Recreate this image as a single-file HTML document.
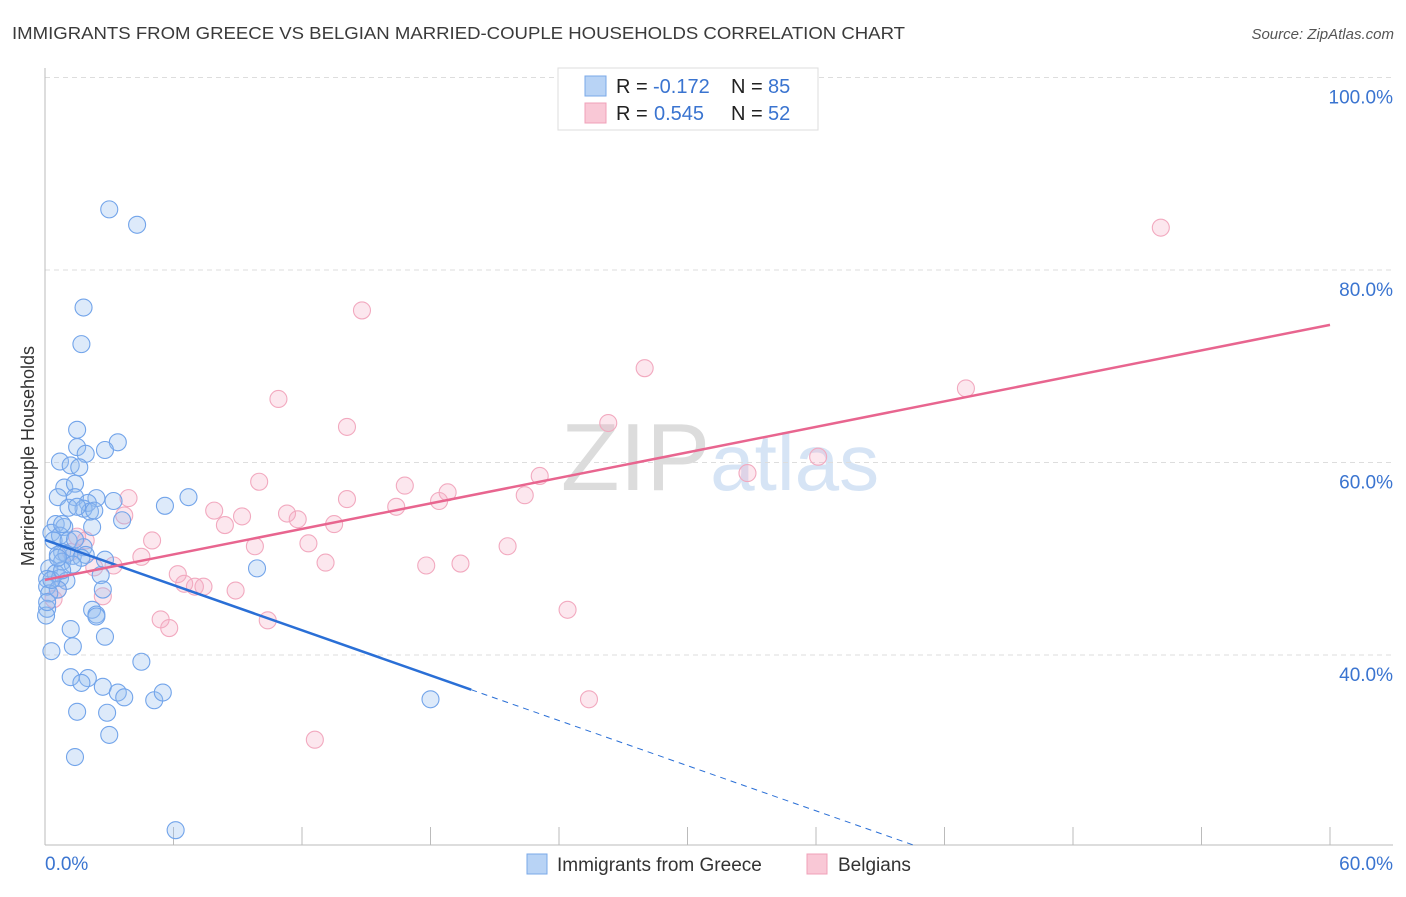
<!DOCTYPE html>
<html><head><meta charset="utf-8"><style>
body{margin:0;background:#fff;font-family:"Liberation Sans",sans-serif;}
svg text{font-family:"Liberation Sans",sans-serif;}
</style></head><body>
<svg id="chart" width="1406" height="892" viewBox="0 0 1406 892" xmlns="http://www.w3.org/2000/svg">
<text x="12" y="39" font-size="17.5" fill="#3a3a3a" textLength="893" lengthAdjust="spacingAndGlyphs">IMMIGRANTS FROM GREECE VS BELGIAN MARRIED-COUPLE HOUSEHOLDS CORRELATION CHART</text>
<text x="1394" y="39" font-size="15" fill="#555" text-anchor="end" font-style="italic">Source: ZipAtlas.com</text>
<text x="720" y="490" font-size="96" text-anchor="middle" fill="#e6e6e6" font-family="Liberation Serif"><tspan fill="#dcdcdc">ZIP</tspan><tspan fill="#d6e4f5" font-family="Liberation Sans" font-size="80">atlas</tspan></text>
<g id="grid"></g>
<g id="axes"></g>
<g id="pts"></g>
<g id="trends"></g>
<text transform="translate(34,456) rotate(-90)" font-size="18" fill="#333" text-anchor="middle">Married-couple Households</text>
<g>
<rect x="558" y="68" width="260" height="62" fill="#fff" stroke="#ddd"/>
<rect x="585" y="76" width="21" height="20" fill="#b8d3f5" stroke="#7aa8e8"/>
<rect x="585" y="103" width="21" height="20" fill="#f9c8d6" stroke="#f0a0b8"/>
<text x="616" y="93" font-size="20" fill="#222">R = </text>
<text x="653" y="93" font-size="20" fill="#3a74d0">-0.172</text>
<text x="731" y="93" font-size="20" fill="#222">N = </text>
<text x="768" y="93" font-size="20" fill="#3a74d0">85</text>
<text x="616" y="120" font-size="20" fill="#222">R = </text>
<text x="654" y="120" font-size="20" fill="#3a74d0">0.545</text>
<text x="731" y="120" font-size="20" fill="#222">N = </text>
<text x="768" y="120" font-size="20" fill="#3a74d0">52</text>
</g>
<g>
<rect x="527" y="854" width="20" height="20" fill="#b8d3f5" stroke="#7aa8e8"/>
<text x="557" y="871" font-size="19" fill="#333">Immigrants from Greece</text>
<rect x="807" y="854" width="20" height="20" fill="#f9c8d6" stroke="#f0a0b8"/>
<text x="838" y="871" font-size="19" fill="#333">Belgians</text>
</g>
</svg>
<script>
const blueX=[3.0,4.3,1.8,1.7,1.5,3.4,1.5,2.8,1.9,0.7,1.2,1.6,0.9,1.4,1.4,0.6,2.4,3.2,6.7,5.6,2.0,1.8,1.1,2.2,0.5,0.9,0.3,0.7,0.4,1.1,3.6,0.8,1.3,0.6,1.8,1.9,2.8,1.0,1.7,0.8,1.3,0.2,0.5,0.1,0.7,1.0,2.6,9.9,0.1,0.6,2.7,0.2,2.2,2.4,2.4,0.1,0.05,1.2,2.8,1.3,0.3,4.5,1.2,2.0,1.7,2.7,3.4,3.7,5.1,5.5,18.0,1.5,2.9,3.0,1.4,6.1,0.1,0.3,0.8,0.6,1.4,2.1,1.5,2.3,0.8];
const blueY=[86.3,84.7,76.1,72.3,63.4,62.1,61.6,61.3,60.9,60.1,59.7,59.5,57.4,57.8,56.4,56.4,56.3,56.0,56.4,55.5,55.8,55.2,55.3,53.3,53.6,53.3,52.7,52.4,51.9,51.9,54.0,50.7,50.3,50.4,51.2,50.4,49.9,50.5,50.1,49.7,49.4,49.0,48.5,47.9,48.0,47.7,48.3,49.0,47.1,46.8,46.8,46.4,44.7,44.2,44.0,44.8,44.1,42.7,41.9,40.9,40.4,39.3,37.7,37.6,37.1,36.7,36.1,35.6,35.3,36.1,35.4,34.1,34.0,31.7,29.4,21.8,45.5,47.8,48.8,50.1,52.0,54.9,55.4,55.0,53.6];
const pinkX=[52.1,14.8,28.0,10.9,43.0,14.1,26.3,36.1,32.8,10.0,23.1,3.9,16.8,18.8,14.1,18.4,22.4,7.9,11.3,11.8,16.4,3.7,9.2,8.4,13.5,5.0,1.5,1.9,21.6,9.8,12.3,4.5,3.2,2.3,13.1,17.8,19.4,6.2,6.5,7.0,7.4,8.9,2.7,0.6,0.4,5.4,5.8,10.4,24.4,25.4,12.6,1.2];
const pinkY=[84.4,75.8,69.8,66.6,67.7,63.7,64.1,60.6,58.9,58.0,58.6,56.3,57.6,56.9,56.2,56.0,56.6,55.0,54.7,54.1,55.4,54.5,54.4,53.5,53.6,51.9,52.3,51.9,51.3,51.3,51.6,50.2,49.3,49.1,49.6,49.3,49.5,48.4,47.4,47.1,47.1,46.7,46.1,46.8,45.8,43.7,42.8,43.6,44.7,35.4,31.2,50.7];
const yTicks=[100,80,60,40];
const yTickLabels=["100.0%","80.0%","60.0%","40.0%"];
const xTickVals=[0,6,12,18,24,30,36,42,48,54,60];
const blueFit=[51.95,-0.7817];
const pinkFit=[47.8,0.4417];
const NS="http://www.w3.org/2000/svg";
const X=v=>45+v*1285/60;
const Y=v=>655-(v-40)*9.625;
function mk(parent,tag,attrs){const e=document.createElementNS(NS,tag);for(const k in attrs)e.setAttribute(k,attrs[k]);document.getElementById(parent).appendChild(e);return e;}
yTicks.forEach((t,i)=>{
 const l=mk('grid','line',{x1:45,x2:1393,y1:Y(t),y2:Y(t),stroke:'#ddd','stroke-dasharray':'5,4'});
 
 
 const tx=mk('grid','text',{x:1393,y:Y(t)+26,'font-size':19,fill:'#3a74d0','text-anchor':'end'});
 tx.textContent=yTickLabels[i];
 
 
});
mk('axes','line',{x1:45,x2:45,y1:68,y2:845,stroke:'#bbb'});
mk('axes','line',{x1:45,x2:1393,y1:845,y2:845,stroke:'#bbb'});
xTickVals.forEach(t=>{
 const l=mk('axes','line',{x1:X(t),x2:X(t),y1:827,y2:845,stroke:'#bbb'});
 
 
});
let a=mk('axes','text',{x:45,y:870,'font-size':19,fill:'#3a74d0'});a.textContent='0.0%';


let b=mk('axes','text',{x:1393,y:870,'font-size':19,fill:'#3a74d0','text-anchor':'end'});b.textContent='60.0%';


pinkX.forEach((x,i)=>{
 const c=mk('pts','circle',{cx:X(x),cy:Y(pinkY[i]),r:8.5,fill:'rgba(245,170,195,0.28)',stroke:'#f2a9bf','stroke-width':1.1});
 
 
});
blueX.forEach((x,i)=>{
 const c=mk('pts','circle',{cx:X(x),cy:Y(blueY[i]),r:8.5,fill:'rgba(150,190,240,0.32)',stroke:'#72a4ea','stroke-width':1.1});
 
 
});
const bx1=19.9,bx2=40.6;
let t1=mk('trends','line',{x1:X(0),y1:Y(blueFit[0]),x2:X(bx1),y2:Y(blueFit[0]+blueFit[1]*bx1),stroke:'#2a6fd6','stroke-width':2.5});


let t2=mk('trends','line',{x1:X(bx1),y1:Y(blueFit[0]+blueFit[1]*bx1),x2:X(bx2),y2:Y(blueFit[0]+blueFit[1]*bx2),stroke:'#2a6fd6','stroke-width':1,'stroke-dasharray':'6,5'});


let t3=mk('trends','line',{x1:X(0),y1:Y(pinkFit[0]),x2:X(60),y2:Y(pinkFit[0]+pinkFit[1]*60),stroke:'#e8658f','stroke-width':2.5});


</script>
</body></html>
